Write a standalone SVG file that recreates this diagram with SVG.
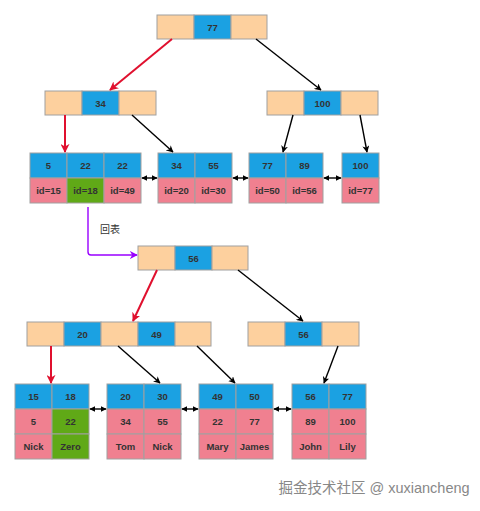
<svg xmlns="http://www.w3.org/2000/svg" width="480" height="511" viewBox="0 0 480 511">
<defs>
<style>
.o{fill:#FDD09E;stroke:#A0A0A0;stroke-width:1}
.b{fill:#1BA1E2;stroke:#A0A0A0;stroke-width:1}
.p{fill:#F08090;stroke:#A0A0A0;stroke-width:1}
.g{fill:#60A917;stroke:#A0A0A0;stroke-width:1}
text{font-family:"Liberation Sans",Arial,sans-serif;font-size:9.5px;font-weight:bold;fill:#333;text-anchor:middle;dominant-baseline:central}
.k{stroke:#000;stroke-width:1.4;fill:none}
.r{stroke:#E0102E;stroke-width:2;fill:none}
.v{stroke:#9900FF;stroke-width:1.4;fill:none}
</style>
<marker id="ak" viewBox="0 0 10 10" refX="9" refY="5" markerWidth="7" markerHeight="7" markerUnits="userSpaceOnUse" orient="auto-start-reverse"><path d="M0,0 L10,5 L0,10 L3,5 Z" fill="#000"/></marker>
<marker id="ar" viewBox="0 0 10 10" refX="9" refY="5" markerWidth="9" markerHeight="9" markerUnits="userSpaceOnUse" orient="auto"><path d="M0,0 L10,5 L0,10 L3,5 Z" fill="#E0102E"/></marker>
<marker id="av" viewBox="0 0 10 10" refX="9" refY="5" markerWidth="8" markerHeight="8" markerUnits="userSpaceOnUse" orient="auto"><path d="M0,0 L10,5 L0,10 L3,5 Z" fill="#9900FF"/></marker>
<marker id="ad" viewBox="0 0 10 10" refX="9" refY="5" markerWidth="6" markerHeight="6" markerUnits="userSpaceOnUse" orient="auto-start-reverse"><path d="M0,0 L10,5 L0,10 Z" fill="#000"/></marker>
</defs>
<rect width="480" height="511" fill="#fff"/>

<g id="root77">
<rect class="o" x="157" y="15" width="37" height="24"/><rect class="b" x="194" y="15" width="37" height="24"/><rect class="o" x="231" y="15" width="36" height="24"/>
<text x="212.5" y="27">77</text>
</g>
<g id="n34">
<rect class="o" x="45" y="91" width="37" height="24"/><rect class="b" x="82" y="91" width="37" height="24"/><rect class="o" x="119" y="91" width="37" height="24"/>
<text x="100.5" y="103">34</text>
</g>
<g id="n100">
<rect class="o" x="267" y="91" width="37" height="24"/><rect class="b" x="304" y="91" width="37" height="24"/><rect class="o" x="341" y="91" width="37" height="24"/>
<text x="322.5" y="103">100</text>
</g>
<g id="leaf1">
<rect class="b" x="30" y="153" width="37" height="25"/><rect class="b" x="67" y="153" width="37" height="25"/><rect class="b" x="104" y="153" width="37" height="25"/>
<rect class="p" x="30" y="178" width="37" height="25"/><rect class="g" x="67" y="178" width="37" height="25"/><rect class="p" x="104" y="178" width="37" height="25"/>
<text x="48.5" y="165.5">5</text><text x="85.5" y="165.5">22</text><text x="122.5" y="165.5">22</text>
<text x="48.5" y="190.5">id=15</text><text x="85.5" y="190.5">id=18</text><text x="122.5" y="190.5">id=49</text>
</g>
<g id="leaf2">
<rect class="b" x="158" y="153" width="37" height="25"/><rect class="b" x="195" y="153" width="37" height="25"/>
<rect class="p" x="158" y="178" width="37" height="25"/><rect class="p" x="195" y="178" width="37" height="25"/>
<text x="176.5" y="165.5">34</text><text x="213.5" y="165.5">55</text>
<text x="176.5" y="190.5">id=20</text><text x="213.5" y="190.5">id=30</text>
</g>
<g id="leaf3">
<rect class="b" x="249" y="153" width="37" height="25"/><rect class="b" x="286" y="153" width="37" height="25"/>
<rect class="p" x="249" y="178" width="37" height="25"/><rect class="p" x="286" y="178" width="37" height="25"/>
<text x="267.5" y="165.5">77</text><text x="304.5" y="165.5">89</text>
<text x="267.5" y="190.5">id=50</text><text x="304.5" y="190.5">id=56</text>
</g>
<g id="leaf4">
<rect class="b" x="342" y="153" width="37" height="25"/>
<rect class="p" x="342" y="178" width="37" height="25"/>
<text x="360.5" y="165.5">100</text>
<text x="360.5" y="190.5">id=77</text>
</g>

<g id="root56">
<rect class="o" x="138" y="246" width="37" height="24"/><rect class="b" x="175" y="246" width="37" height="24"/><rect class="o" x="212" y="246" width="36" height="24"/>
<text x="193.5" y="258">56</text>
</g>
<g id="n20_49">
<rect class="o" x="27" y="322" width="37" height="24"/><rect class="b" x="64" y="322" width="37" height="24"/><rect class="o" x="101" y="322" width="37" height="24"/><rect class="b" x="138" y="322" width="37" height="24"/><rect class="o" x="175" y="322" width="36" height="24"/>
<text x="82.5" y="334">20</text><text x="156.5" y="334">49</text>
</g>
<g id="n56">
<rect class="o" x="248" y="322" width="37" height="24"/><rect class="b" x="285" y="322" width="37" height="24"/><rect class="o" x="322" y="322" width="37" height="24"/>
<text x="303.5" y="334">56</text>
</g>
<g id="rl1">
<rect class="b" x="15" y="384" width="37" height="25"/><rect class="b" x="52" y="384" width="37" height="25"/>
<rect class="p" x="15" y="409" width="37" height="25"/><rect class="g" x="52" y="409" width="37" height="25"/>
<rect class="p" x="15" y="434" width="37" height="25"/><rect class="g" x="52" y="434" width="37" height="25"/>
<text x="33.5" y="396.5">15</text><text x="70.5" y="396.5">18</text>
<text x="33.5" y="421.5">5</text><text x="70.5" y="421.5">22</text>
<text x="33.5" y="446.5">Nick</text><text x="70.5" y="446.5">Zero</text>
</g>
<g id="rl2">
<rect class="b" x="107" y="384" width="37" height="25"/><rect class="b" x="144" y="384" width="37" height="25"/>
<rect class="p" x="107" y="409" width="37" height="25"/><rect class="p" x="144" y="409" width="37" height="25"/>
<rect class="p" x="107" y="434" width="37" height="25"/><rect class="p" x="144" y="434" width="37" height="25"/>
<text x="125.5" y="396.5">20</text><text x="162.5" y="396.5">30</text>
<text x="125.5" y="421.5">34</text><text x="162.5" y="421.5">55</text>
<text x="125.5" y="446.5">Tom</text><text x="162.5" y="446.5">Nick</text>
</g>
<g id="rl3">
<rect class="b" x="199" y="384" width="37" height="25"/><rect class="b" x="236" y="384" width="37" height="25"/>
<rect class="p" x="199" y="409" width="37" height="25"/><rect class="p" x="236" y="409" width="37" height="25"/>
<rect class="p" x="199" y="434" width="37" height="25"/><rect class="p" x="236" y="434" width="37" height="25"/>
<text x="217.5" y="396.5">49</text><text x="254.5" y="396.5">50</text>
<text x="217.5" y="421.5">22</text><text x="254.5" y="421.5">77</text>
<text x="217.5" y="446.5">Mary</text><text x="254.5" y="446.5">James</text>
</g>
<g id="rl4">
<rect class="b" x="292" y="384" width="37" height="25"/><rect class="b" x="329" y="384" width="37" height="25"/>
<rect class="p" x="292" y="409" width="37" height="25"/><rect class="p" x="329" y="409" width="37" height="25"/>
<rect class="p" x="292" y="434" width="37" height="25"/><rect class="p" x="329" y="434" width="37" height="25"/>
<text x="310.5" y="396.5">56</text><text x="347.5" y="396.5">77</text>
<text x="310.5" y="421.5">89</text><text x="347.5" y="421.5">100</text>
<text x="310.5" y="446.5">John</text><text x="347.5" y="446.5">Lily</text>
</g>

<g id="connectors">
<line class="r" x1="172" y1="39" x2="110" y2="90" marker-end="url(#ar)"/>
<line class="k" x1="256" y1="39" x2="321" y2="90" marker-end="url(#ak)"/>
<line class="r" x1="65" y1="115" x2="65" y2="152" marker-end="url(#ar)"/>
<line class="k" x1="132" y1="115" x2="173" y2="152" marker-end="url(#ak)"/>
<line class="k" x1="293" y1="115" x2="283" y2="152" marker-end="url(#ak)"/>
<line class="k" x1="360" y1="115" x2="367" y2="152" marker-end="url(#ak)"/>
<line class="k" x1="142" y1="178" x2="157" y2="178" marker-start="url(#ad)" marker-end="url(#ad)"/>
<line class="k" x1="233" y1="178" x2="248" y2="178" marker-start="url(#ad)" marker-end="url(#ad)"/>
<line class="k" x1="324" y1="178" x2="341" y2="178" marker-start="url(#ad)" marker-end="url(#ad)"/>
<path class="v" d="M88,207 L88,252 Q88,255 91,255 L137,255" marker-end="url(#av)"/>
<line class="r" x1="157" y1="270" x2="133" y2="321" marker-end="url(#ar)"/>
<line class="k" x1="238" y1="270" x2="303" y2="321" marker-end="url(#ak)"/>
<line class="r" x1="51" y1="346" x2="51" y2="383" marker-end="url(#ar)"/>
<line class="k" x1="118" y1="346" x2="160" y2="383" marker-end="url(#ak)"/>
<line class="k" x1="197" y1="346" x2="235" y2="383" marker-end="url(#ak)"/>
<line class="k" x1="338" y1="346" x2="324" y2="383" marker-end="url(#ak)"/>
<line class="k" x1="90" y1="409" x2="106" y2="409" marker-start="url(#ad)" marker-end="url(#ad)"/>
<line class="k" x1="182" y1="409" x2="198" y2="409" marker-start="url(#ad)" marker-end="url(#ad)"/>
<line class="k" x1="274" y1="409" x2="291" y2="409" marker-start="url(#ad)" marker-end="url(#ad)"/>
</g>
<text x="110" y="229" style="font-family:'Liberation Sans','Noto Sans CJK SC',sans-serif;font-size:10px;font-weight:normal">回表</text>
<text x="374" y="488" style="font-family:'Liberation Sans','Noto Sans CJK SC',sans-serif;font-size:14.5px;font-weight:normal;fill:#888">掘金技术社区 @ xuxiancheng</text>
</svg>
